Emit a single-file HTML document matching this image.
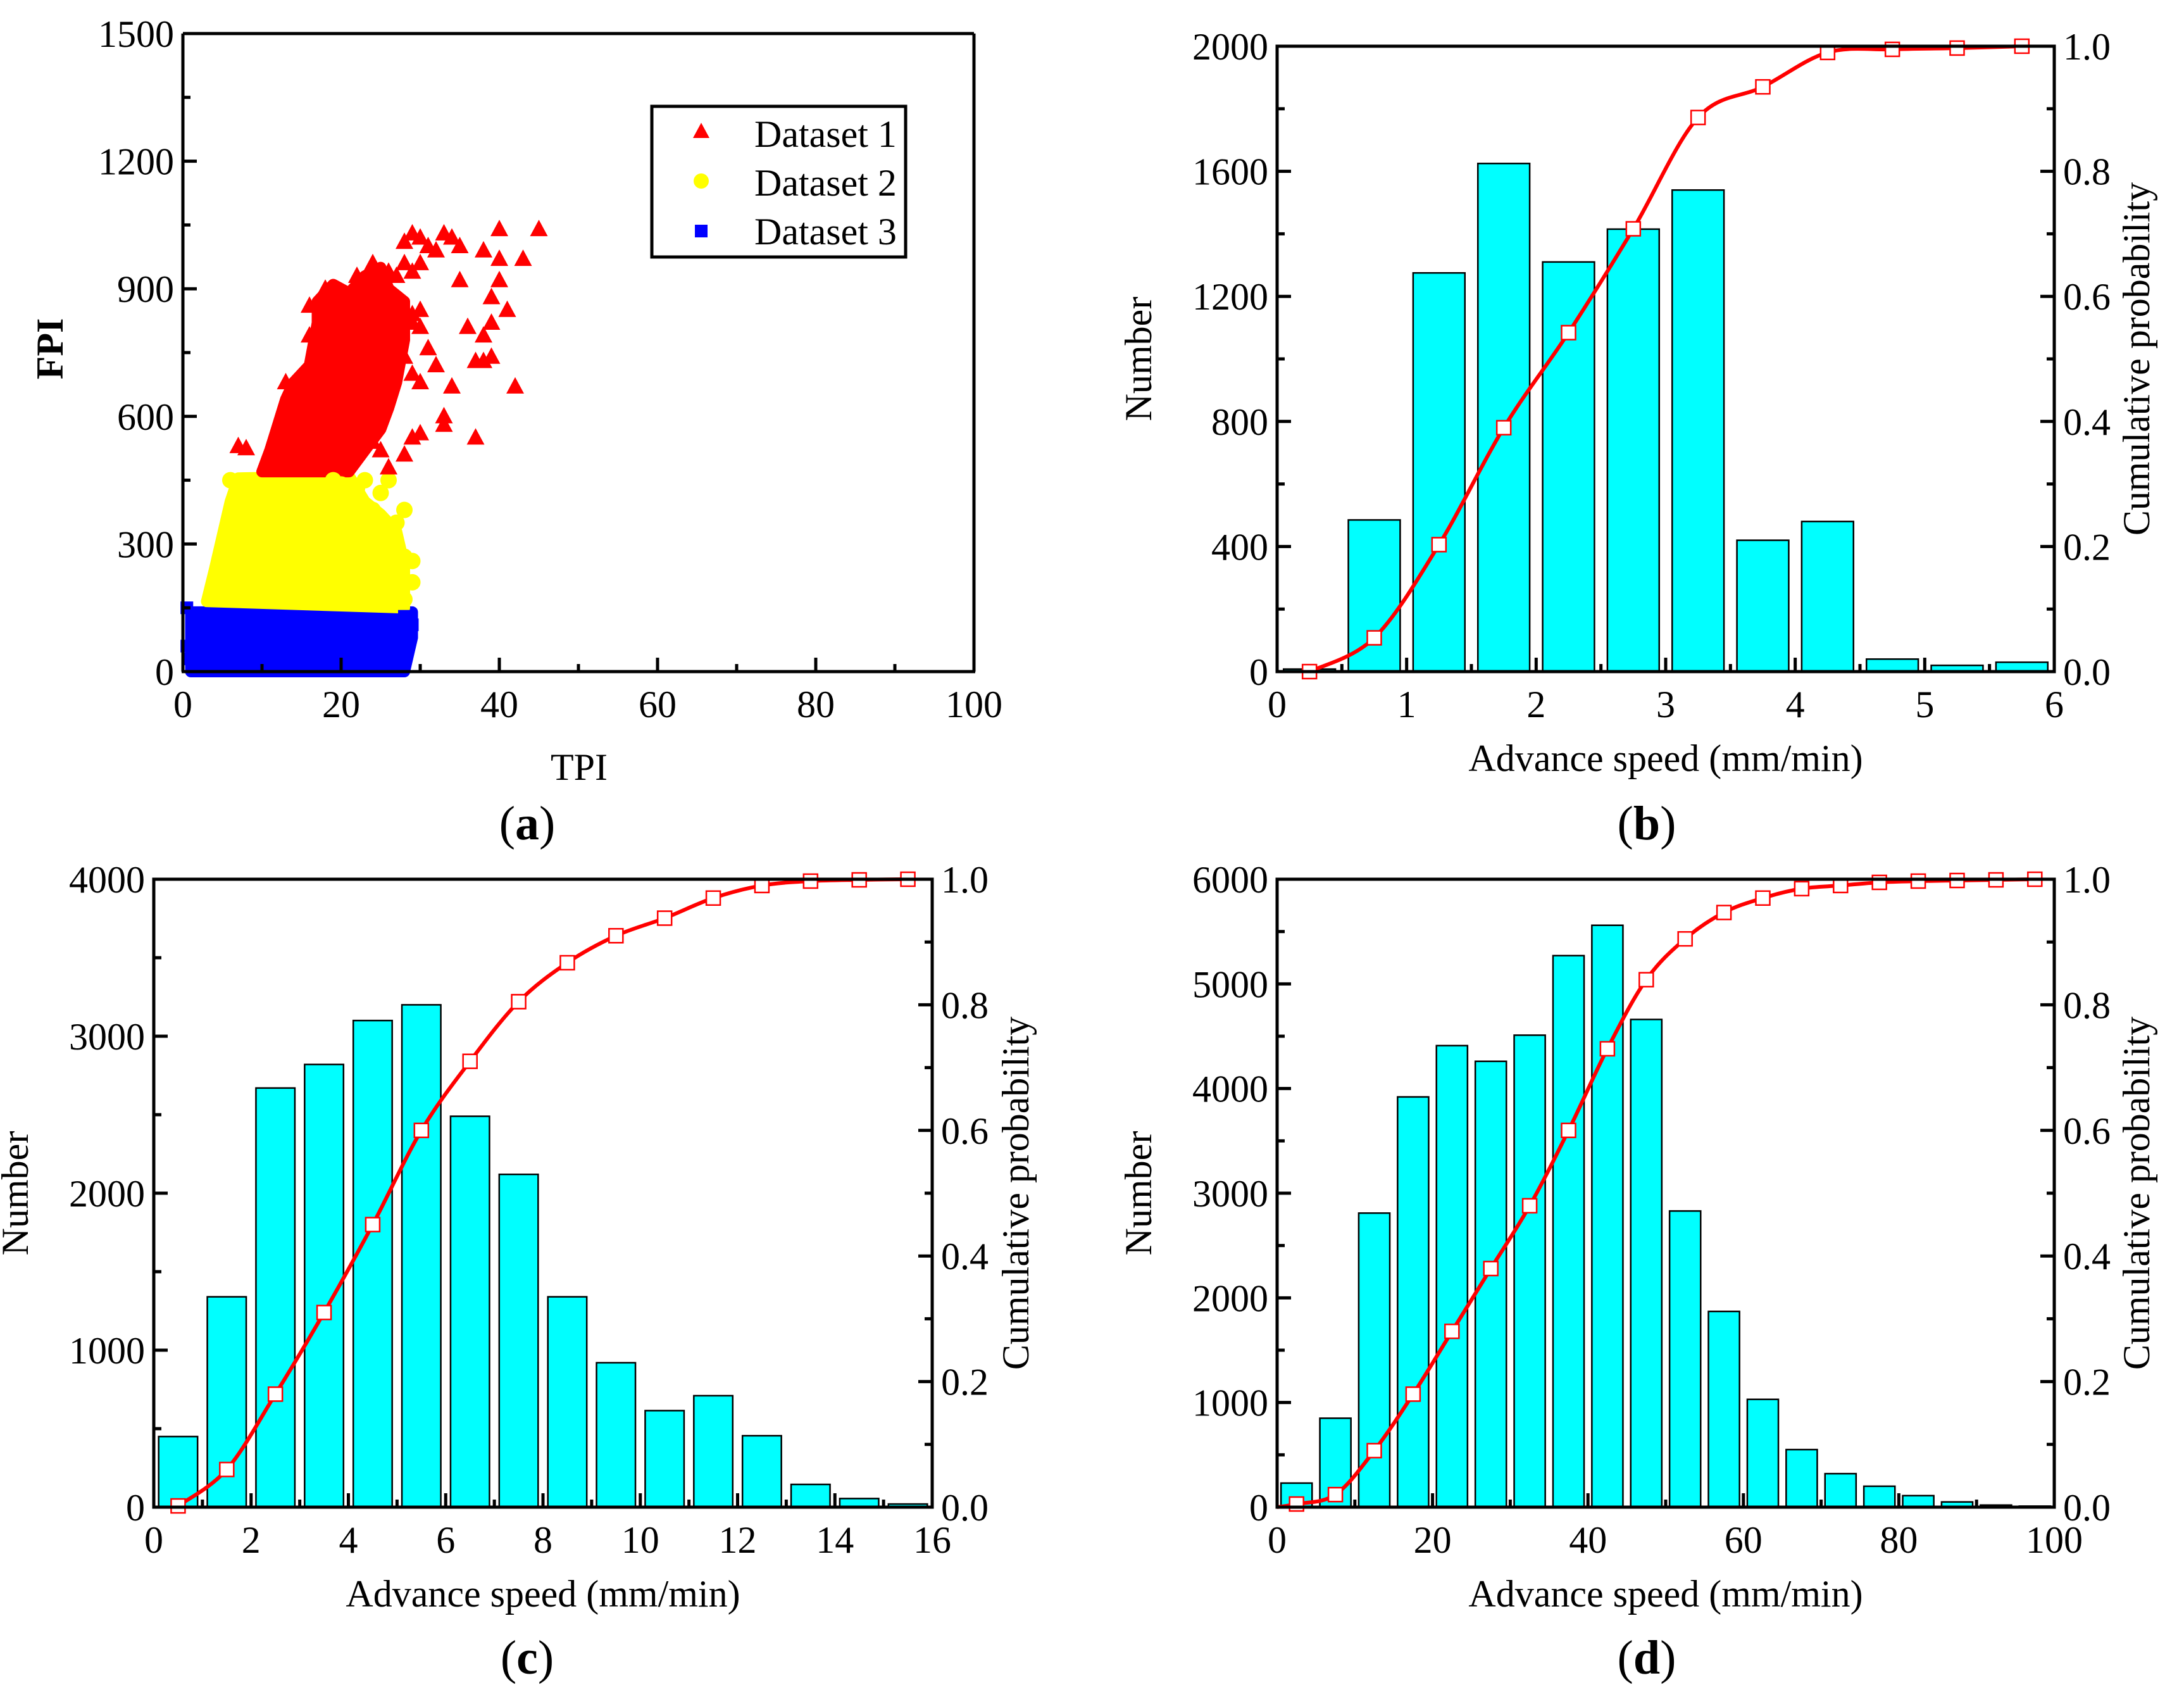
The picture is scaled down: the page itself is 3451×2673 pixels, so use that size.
<!DOCTYPE html>
<html><head><meta charset="utf-8"><style>
html,body{margin:0;padding:0;background:#fff;}
svg{display:block;font-family:"Liberation Serif",serif;}
</style></head><body>
<svg id="fig" width="3451" height="2673" viewBox="0 0 3451 2673" xmlns="http://www.w3.org/2000/svg"></svg>
<script>
// ---------- Panel (b) data ----------
const bCenters=[0.25,0.75,1.25,1.75,2.25,2.75,3.25,3.75,4.25,4.75,5.25,5.75];
const bCounts=[8,485,1275,1625,1310,1415,1540,420,480,40,20,30];
const bCum=[0.0,0.054,0.203,0.39,0.542,0.708,0.886,0.935,0.99,0.995,0.997,1.0];
// ---------- Panel (c) data ----------
const cCenters=[0.5,1.5,2.5,3.5,4.5,5.5,6.5,7.5,8.5,9.5,10.5,11.5,12.5,13.5,14.5,15.5];
const cCounts=[450,1340,2670,2820,3100,3200,2490,2120,1340,920,615,710,455,145,55,20];
const cCum=[0.002,0.06,0.18,0.31,0.45,0.6,0.71,0.805,0.867,0.91,0.938,0.97,0.99,0.997,0.999,1.0];
// ---------- Panel (d) data ----------
const dCenters=[2.5,7.5,12.5,17.5,22.5,27.5,32.5,37.5,42.5,47.5,52.5,57.5,62.5,67.5,72.5,77.5,82.5,87.5,92.5,97.5];
const dCounts=[230,850,2810,3920,4410,4260,4510,5270,5560,4660,2830,1870,1030,550,320,200,110,50,20,10];
const dCum=[0.005,0.02,0.09,0.18,0.28,0.38,0.48,0.6,0.73,0.84,0.905,0.947,0.97,0.985,0.99,0.995,0.997,0.998,0.999,1.0];
// ---------- Panel (a) data ----------
const redRegion=[[10,470],[11,520],[12,580],[13,640],[14,680],[16,720],[17,820],[17,870],[19,910],[21,890],[23,930],[25,950],[26,900],[28,870],[28,780],[27,680],[26,620],[25,570],[23,520],[21,470]];
const yellowRegion=[[3,165],[4,240],[5,320],[6,400],[7,455],[21,460],[22,430],[23,400],[25,370],[27,330],[28,250],[28,150]];
const blueRegion=[[1,0],[1,140],[29,140],[29,80],[28,0]];
const redPts=[[7,530],[8,525],[11,500],[13,680],[14,660],[16,790],[16,860],[18,880],[18,900],[20,880],[22,930],[24,960],[26,940],[27,930],[28,1010],[29,1030],[30,1020],[31,1000],[32,990],[33,1030],[34,1020],[35,1000],[38,990],[40,970],[40,1040],[45,1040],[43,970],[35,920],[36,810],[40,920],[39,880],[41,850],[39,820],[38,790],[39,740],[37,730],[38,730],[42,670],[37,550],[33,600],[33,580],[34,670],[32,720],[31,760],[30,680],[29,550],[30,560],[28,510],[26,480],[25,520],[24,540],[29,840],[30,850],[29,940],[30,960],[28,960],[29,820],[30,810],[28,740],[29,700]];
const yellowPts=[[6,450],[28,380],[27,350],[28,270],[29,210],[28,170],[26,450],[25,420],[24,380],[23,300],[22,240],[26,190],[21,170],[27,240],[25,330],[22,430],[19,450],[24,200],[29,260],[20,440],[23,450]];
const bluePts=[[0.5,150],[0.5,60],[1,30],[27,120],[28,130],[29,110]];

const NS="http://www.w3.org/2000/svg";
const svg=document.getElementById('fig');
const TF=60, TT=60, PL=76;
function mk(tag,attrs,parent){const e=document.createElementNS(NS,tag);for(const k in attrs)e.setAttribute(k,attrs[k]);(parent||svg).appendChild(e);return e;}
function txt(s,x,y,size,anchor,parent,extra){const t=mk('text',Object.assign({x:x,y:y,'font-size':size,'text-anchor':anchor||'middle',fill:'#000'},extra||{}),parent);t.textContent=s;return t;}
function lin(d0,d1,p0,p1){return v=>p0+(v-d0)/(d1-d0)*(p1-p0);}
function smoothPath(pts){
  let d='M'+pts[0][0]+','+pts[0][1];
  for(let i=0;i<pts.length-1;i++){
    const p0=pts[Math.max(i-1,0)],p1=pts[i],p2=pts[i+1],p3=pts[Math.min(i+2,pts.length-1)];
    const c1=[p1[0]+(p2[0]-p0[0])/6,p1[1]+(p2[1]-p0[1])/6];
    const c2=[p2[0]-(p3[0]-p1[0])/6,p2[1]-(p3[1]-p1[1])/6];
    d+=' C'+c1[0]+','+c1[1]+' '+c2[0]+','+c2[1]+' '+p2[0]+','+p2[1];
  }
  return d;
}
function axesFrame(g,L,R,T,B){mk('rect',{x:L,y:T,width:R-L,height:B-T,fill:'none',stroke:'#000','stroke-width':5},g);}

function histPanel(name,L,R,T,B,xmax,xticks,ymax,yticks,ystep,centers,counts,cum,binW,curveStart,xlabelY,ylabX,cumX,label,labelX,labelY){
  const g=mk('g',{});
  
  
  const X=lin(0,xmax,L,R),Y=lin(0,ymax,B,T),Y2=lin(0,1,B,T);
  const bars=mk('g',{},g);
  
  
  centers.forEach((c,i)=>{
    const r=mk('rect',{x:X(c-binW*0.4),y:Y(counts[i]),width:X(c+binW*0.4)-X(c-binW*0.4),height:B-Y(counts[i]),fill:'#00FFFF',stroke:'#000','stroke-width':2.5},bars);
    
    
  });
  const pts=centers.map((c,i)=>[X(c),Y2(cum[i])]);
  if(curveStart!==null) pts.unshift([X(curveStart[0]),Y2(curveStart[1])]);
  const cp=mk('path',{d:smoothPath(pts),fill:'none',stroke:'#FF0000','stroke-width':6},g);
  
  
  centers.forEach((c,i)=>{
    const m=mk('rect',{x:X(c)-11,y:Y2(cum[i])-11,width:22,height:22,fill:'#fff',stroke:'#FF0000','stroke-width':2.5},g);
    
    
  });
  axesFrame(g,L,R,T,B);
  for(let v=0;v<=ymax+1e-9;v+=ystep/2){
    const major=Math.abs(v/ystep-Math.round(v/ystep))<1e-6;
    mk('line',{x1:L,x2:L+(major?22:12),y1:Y(v),y2:Y(v),stroke:'#000','stroke-width':5},g);
  }
  yticks.forEach(v=>{txt(String(v),L-14,Y(v)+21,TF,'end',g);});
  const rt=[0,0.2,0.4,0.6,0.8,1.0];
  for(let v=0;v<=1.0001;v+=0.1){
    const major=Math.abs(v*5-Math.round(v*5))<1e-6;
    mk('line',{x1:R,x2:R-(major?22:12),y1:Y2(v),y2:Y2(v),stroke:'#000','stroke-width':5},g);
  }
  rt.forEach(v=>{txt(v.toFixed(1),R+14,Y2(v)+21,TF,'start',g);});
  const xs=xticks[1]-xticks[0];
  for(let v=0;v<=xmax+1e-9;v+=xs/2){
    const major=Math.abs(v/xs-Math.round(v/xs))<1e-6;
    mk('line',{x1:X(v),x2:X(v),y1:B,y2:B-(major?22:12),stroke:'#000','stroke-width':5},g);
  }
  xticks.forEach(v=>{txt(String(v),X(v),B+72,TF,'middle',g);});
  const xl=txt('Advance speed (mm/min)',(L+R)/2,xlabelY,TT,'middle',g);
  
  const yl=txt('Number',ylabX,(T+B)/2,TT,'middle',g,{transform:'rotate(-90 '+ylabX+' '+(T+B)/2+')'});
  
  const y2=txt('Cumulative probability',cumX,(T+B)/2,TT,'middle',g,{transform:'rotate(-90 '+cumX+' '+(T+B)/2+')'});
  
  const pl=mk('text',{x:labelX,y:labelY,'font-size':PL,'text-anchor':'middle'},g);
  pl.innerHTML='(<tspan font-weight="bold">'+label+'</tspan>)';
  
}

(function(){
  const L=289,R=1539,T=53,B=1061;
  const g=mk('g',{});
  
  
  const X=lin(0,100,L,R),Y=lin(0,1500,B,T);
  const poly=(arr,col,nm)=>{const p=mk('polygon',{points:arr.map(q=>X(q[0])+','+Y(q[1])).join(' '),fill:col,stroke:col,'stroke-width':18,'stroke-linejoin':'round'},g);
    };
  poly(blueRegion,'#0000FF','dataset3-cluster');
  poly(yellowRegion,'#FFFF00','dataset2-cluster');
  poly(redRegion,'#FF0000','dataset1-cluster');
  bluePts.forEach(p=>{const r=mk('rect',{x:X(p[0])-10,y:Y(p[1])-10,width:20,height:20,fill:'#0000FF'},g);
    });
  yellowPts.forEach(p=>{const c=mk('circle',{cx:X(p[0]),cy:Y(p[1]),r:13,fill:'#FFFF00'},g);
    });
  redPts.forEach(p=>{const x=X(p[0]),y=Y(p[1]);const t=mk('polygon',{points:(x)+','+(y-15)+' '+(x-14)+','+(y+11)+' '+(x+14)+','+(y+11),fill:'#FF0000'},g);
    });
  mk('line',{x1:L,y1:T,x2:R,y2:T,stroke:'#000','stroke-width':5},g);
  mk('line',{x1:R,y1:T,x2:R,y2:B,stroke:'#000','stroke-width':5},g);
  mk('line',{x1:L,y1:T,x2:L,y2:B,stroke:'#000','stroke-width':5},g);
  mk('line',{x1:L-2,y1:B,x2:R+2,y2:B,stroke:'#000','stroke-width':5},g);
  const yt=[0,300,600,900,1200,1500];
  for(let v=0;v<=1500;v+=150){const major=v%300===0;mk('line',{x1:L,x2:L+(major?22:12),y1:Y(v),y2:Y(v),stroke:'#000','stroke-width':5},g);}
  yt.forEach(v=>txt(String(v),L-14,Y(v)+21,TF,'end',g));
  const xt=[0,20,40,60,80,100];
  for(let v=0;v<=100;v+=10){const major=v%20===0;mk('line',{x1:X(v),x2:X(v),y1:B,y2:B-(major?22:12),stroke:'#000','stroke-width':5},g);}
  xt.forEach(v=>txt(String(v),X(v),B+72,TF,'middle',g));
  const yl=txt('FPI',99,551,TT,'middle',g,{'font-weight':'bold',transform:'rotate(-90 99 551)'});
  
  const xl=txt('TPI',915,1232,TT,'middle',g);
  
  const lg=mk('g',{},g);
  
  mk('rect',{x:1030,y:168,width:401,height:238,fill:'#fff',stroke:'#000','stroke-width':5},lg);
  const lx=1108;
  mk('polygon',{points:lx+',194 '+(lx-13)+',218 '+(lx+13)+',218',fill:'#FF0000'},lg);
  mk('circle',{cx:lx,cy:286,r:12,fill:'#FFFF00'},lg);
  mk('rect',{x:lx-10,y:355,width:20,height:20,fill:'#0000FF'},lg);
  ['Dataset 1','Dataset 2','Dataset 3'].forEach((s,i)=>{const t=txt(s,1192,232+i*77,TT,'start',lg);
    });
  const pl=mk('text',{x:833,y:1326,'font-size':PL,'text-anchor':'middle'},g);
  pl.innerHTML='(<tspan font-weight="bold">a</tspan>)';
  
})();

histPanel('histogram-panel-b',2018,3246,73,1061,6,[0,1,2,3,4,5,6],2000,[0,400,800,1200,1600,2000],400,bCenters,bCounts,bCum,0.5,null,1218,1819,3396,'b',2602,1326);
histPanel('histogram-panel-c',243,1473,1389,2381,16,[0,2,4,6,8,10,12,14,16],4000,[0,1000,2000,3000,4000],1000,cCenters,cCounts,cCum,1,null,2538,44,1625,'c',833,2644);
histPanel('histogram-panel-d',2018,3246,1389,2381,100,[0,20,40,60,80,100],6000,[0,1000,2000,3000,4000,5000,6000],1000,dCenters,dCounts,dCum,5,[0,0.0],2538,1819,3396,'d',2602,2644);
</script>
</body></html>
